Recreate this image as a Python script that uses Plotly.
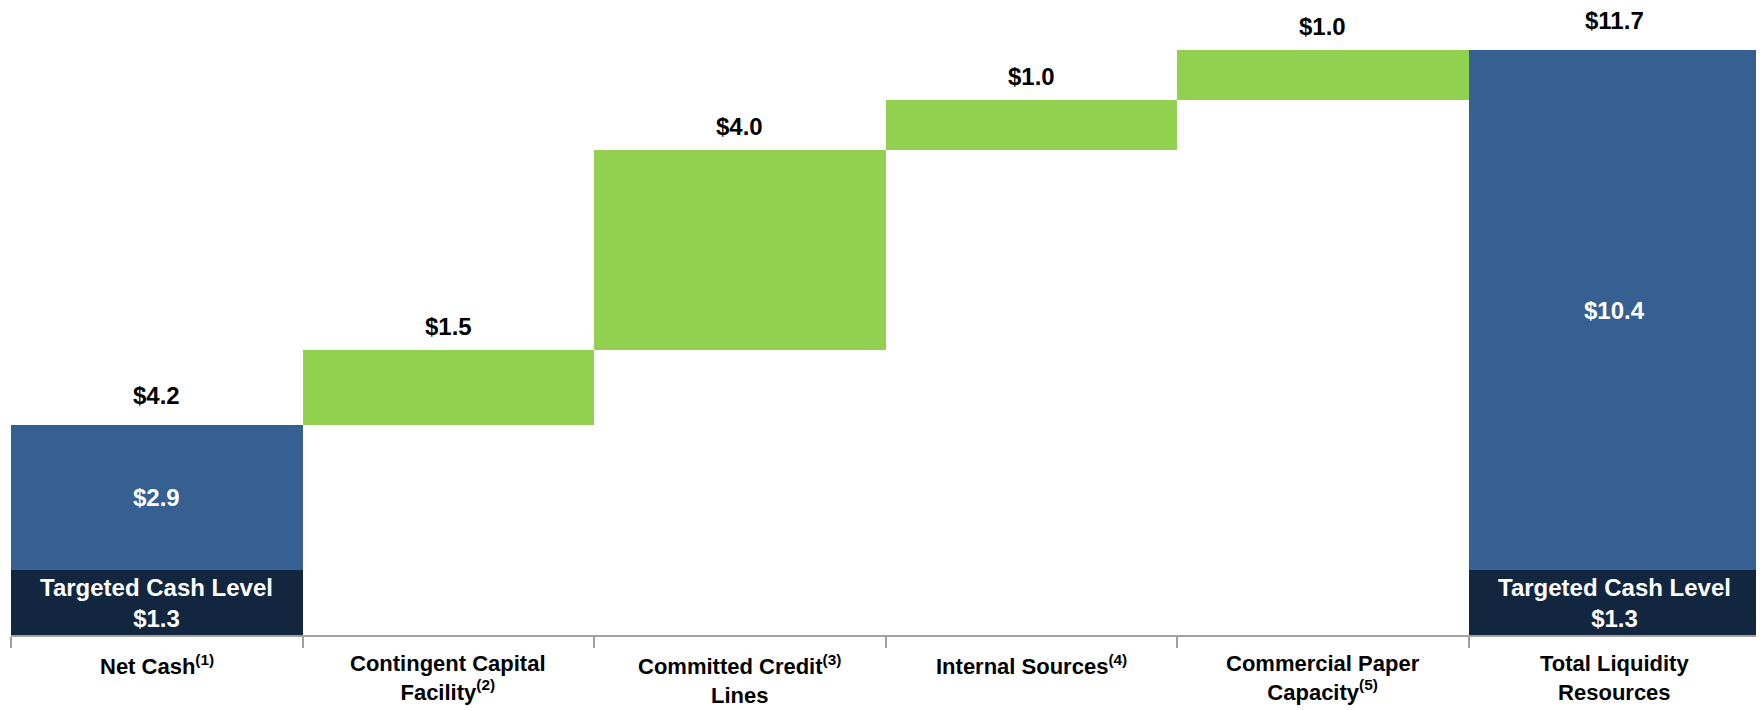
import plotly.graph_objects as go

# ---- data ----
categories = [
    "Net Cash<sup>(1)</sup>",
    "Contingent Capital<br>Facility<sup>(2)</sup>",
    "Committed Credit<sup>(3)</sup><br>Lines",
    "Internal Sources<sup>(4)</sup>",
    "Commercial Paper<br>Capacity<sup>(5)</sup>",
    "Total Liquidity<br>Resources",
]
keys = ["net", "ccf", "ccl", "int", "cp", "total"]
targeted_cash = 1.3
net_cash_above_target = 2.9
increments = [1.5, 4.0, 1.0, 1.0]
total_above_target = 10.4
top_labels = ["$4.2", "$1.5", "$4.0", "$1.0", "$1.0", "$11.7"]

NAVY = "#13263F"
BLUE = "#366092"
GREEN = "#92D050"
FONT = "Liberation Sans, Arial, sans-serif"

# derived positions
net_top = targeted_cash + net_cash_above_target
green_bases = []
run = net_top
for v in increments:
    green_bases.append(run)
    run += v
total_top = targeted_cash + total_above_target
tops = [net_top] + [b + v for b, v in zip(green_bases, increments)] + [total_top]

fig = go.Figure()
fig.add_trace(go.Bar(
    x=[keys[0], keys[5]], y=[targeted_cash, targeted_cash], base=[0, 0],
    marker=dict(color=NAVY, line=dict(width=0)), width=1.0, hoverinfo="skip",
))
fig.add_trace(go.Bar(
    x=[keys[0], keys[5]], y=[net_cash_above_target, total_above_target],
    base=[targeted_cash, targeted_cash],
    marker=dict(color=BLUE, line=dict(width=0)), width=1.0, hoverinfo="skip",
))
fig.add_trace(go.Bar(
    x=keys[1:5], y=increments, base=green_bases,
    marker=dict(color=GREEN, line=dict(width=0)), width=1.0, hoverinfo="skip",
))

annotations = []
for i, (k, t, lab) in enumerate(zip(keys, tops, top_labels)):
    shift = 30 if i in (0, 5) else 24
    annotations.append(dict(
        x=k, y=t, xref="x", yref="y", text=lab, showarrow=False,
        yanchor="middle", yshift=shift,
        font=dict(family=FONT, size=24, color="black", weight="bold"),
    ))
for k, above in [(keys[0], net_cash_above_target), (keys[5], total_above_target)]:
    annotations.append(dict(
        x=k, y=targeted_cash + above / 2, xref="x", yref="y",
        text=f"${above:.1f}", showarrow=False, yanchor="middle",
        font=dict(family=FONT, size=24, color="white", weight="bold"),
    ))
    annotations.append(dict(
        x=k, y=targeted_cash / 2, xref="x", yref="y",
        text=f"Targeted Cash Level<br>${targeted_cash:.1f}", showarrow=False,
        yanchor="middle",
        font=dict(family=FONT, size=24, color="white", weight="bold"),
    ))
for k, c in zip(keys, categories):
    annotations.append(dict(
        x=k, y=0, xref="x", yref="y", text=c, showarrow=False,
        yanchor="top", yshift=-14,
        font=dict(family=FONT, size=22, color="black", weight="bold"),
    ))

fig.update_layout(
    width=1756, height=702,
    margin=dict(l=3, r=4, t=0, b=75),
    paper_bgcolor="white", plot_bgcolor="white",
    showlegend=False, bargap=0, barmode="overlay",
    annotations=annotations,
    xaxis=dict(
        type="category", categoryorder="array", categoryarray=keys,
        range=[-0.5, 5.5], showticklabels=False,
        tickson="boundaries", ticks="outside", ticklen=11, tickwidth=1.5,
        tickcolor="#A0A0A0", showline=True, linecolor="#A0A0A0", linewidth=1.5,
        showgrid=False, zeroline=False, fixedrange=True,
    ),
    yaxis=dict(
        range=[0, 12.54], visible=False, showgrid=False, zeroline=False,
        fixedrange=True,
    ),
)

fig.write_html("out.html")
